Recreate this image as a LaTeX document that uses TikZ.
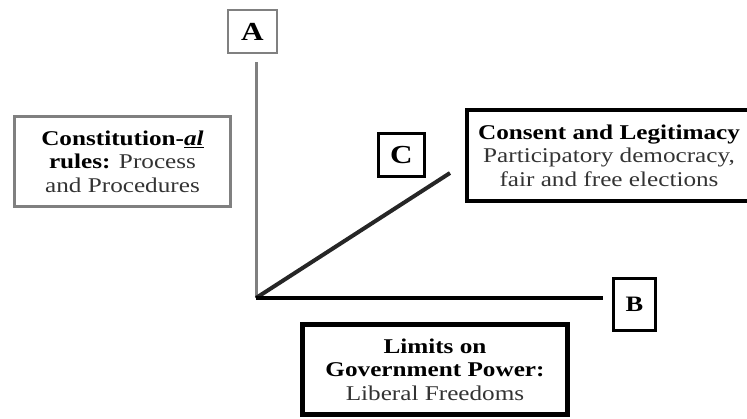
\documentclass[tikz,border=0pt]{standalone}
\usepackage{fontspec}
\setmainfont[FakeStretch=1.2]{Liberation Serif}
\definecolor{boxgray}{gray}{0.5}
\definecolor{txtgray}{gray}{0.2}
\begin{document}
\begin{tikzpicture}[x=1pt,y=-1pt,
  box/.style={draw, inner sep=0pt, align=center, font=\fontsize{21}{23.5}\selectfont},
  letterbox/.style={box, font=\fontsize{26}{28}\selectfont\bfseries},
  axis/.style={line width=4pt, line cap=butt}]
\useasboundingbox (0,0) rectangle (747,418);
% boxes
\node[letterbox, draw=boxgray, line width=2pt, minimum width=49pt, minimum height=43pt] (A) at (252.5,31.5) {A};
\node[box, draw=boxgray, line width=2.5pt, minimum width=216pt, minimum height=90pt] (rules) at (122.5,161.5)
  {\textbf{Constitution-\underline{\textit{al}}}\\\textbf{rules:} {\color{txtgray}Process}\\{\color{txtgray}and Procedures}};
\node[letterbox, line width=3pt, minimum width=46pt, minimum height=43pt] (C) at (401.5,155) {C};
\node[box, line width=4pt, minimum width=284pt, minimum height=91pt] (consent) at (609,155.5)
  {\textbf{Consent and Legitimacy}\\{\color{txtgray}Participatory democracy,}\\{\color{txtgray}fair and free elections}};
\node[letterbox, font=\fontsize{22}{24}\selectfont\bfseries, line width=2.5pt, minimum width=42pt, minimum height=52pt] (B) at (634.5,304.5) {B};
\node[box, line width=4.5pt, minimum width=265pt, minimum height=90pt] (limits) at (435,369.5)
  {\textbf{Limits on}\\\textbf{Government Power:}\\{\color{txtgray}Liberal Freedoms}};
% axes
\coordinate (O) at (256,298);
\coordinate (Aend) at (256,62);
\coordinate (Bend) at (603,298);
\coordinate (Cend) at (450,173);
\draw[line width=3pt, boxgray] (O) -- (Aend);
\draw[axis, black!85] (O) -- (Cend);
\draw[axis] (O) -- (Bend);
\end{tikzpicture}
\end{document}
